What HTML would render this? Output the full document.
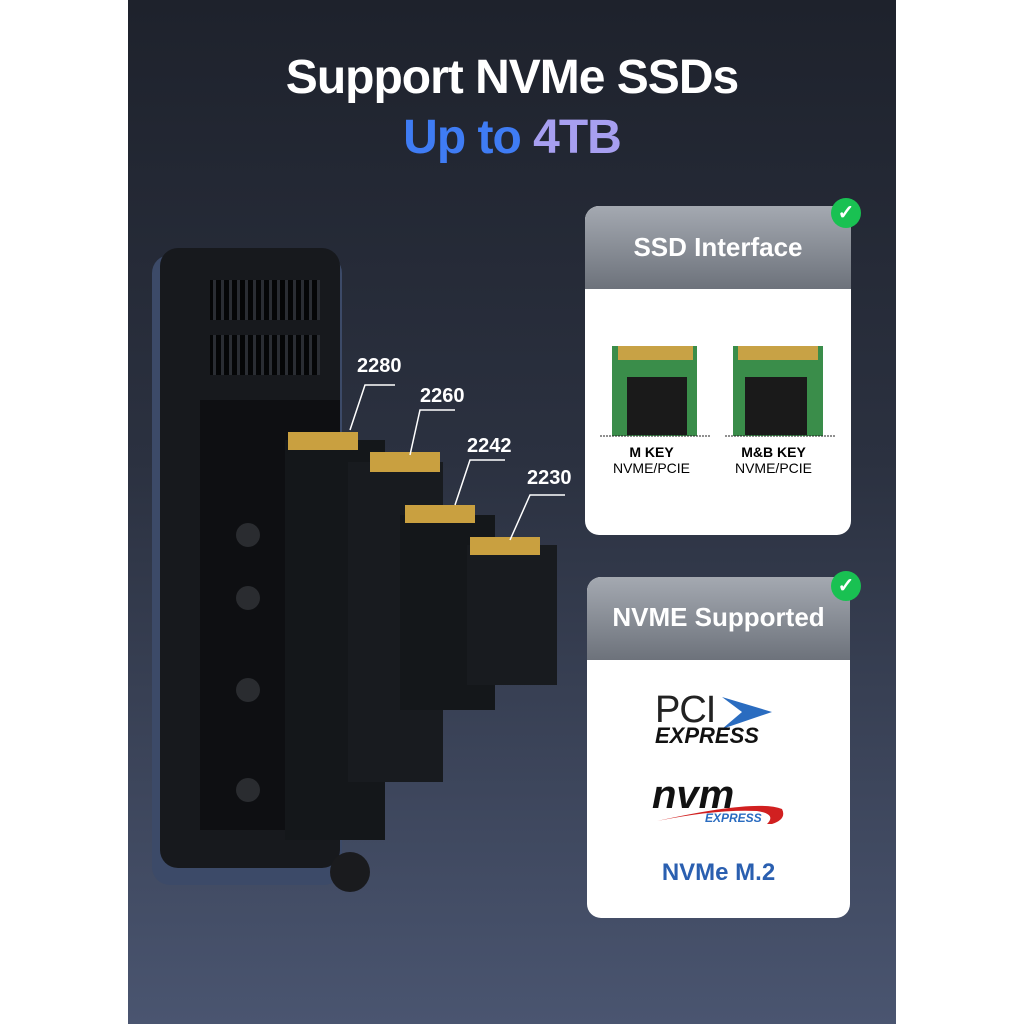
<!DOCTYPE html>
<html><head><style>
body{margin:0;width:1024px;height:1024px;background:#fff;position:relative;overflow:hidden;font-family:"Liberation Sans",sans-serif}
#p{position:absolute;left:128px;top:0;width:768px;height:1024px;background:linear-gradient(#1e222c 0%,#2b3140 45%,#4a5570 100%)}
.t{position:absolute;left:128px;width:768px;text-align:center;font-weight:bold;letter-spacing:-1px}
.card{position:absolute;background:#fff;border-radius:14px;overflow:hidden}
.hd{background:linear-gradient(#a4a9b1,#6d727b);color:#fff;font-weight:bold;font-size:26px;text-align:center}
.ck{position:absolute;width:30px;height:30px;border-radius:50%;background:#19c152;color:#fff;font-size:20px;line-height:30px;text-align:center;font-weight:bold}
.lbl{position:absolute;color:#fff;font-size:20px;font-weight:bold}
</style></head><body>
<div id="p"></div>
<div class="t" style="top:50px;font-size:48px;color:#fff">Support NVMe SSDs</div>
<div class="t" style="top:110px;font-size:48px;color:#6b8cf0"><span style="color:#3f7cf4">Up to </span><span style="color:#a79ff0">4TB</span></div>

<svg style="position:absolute;left:0;top:0" width="1024" height="1024">
<defs><pattern id="sl" width="8" height="40" patternUnits="userSpaceOnUse"><rect width="5" height="40" fill="#050607"/><rect x="5" width="3" height="40" fill="#2a2d33"/></pattern></defs>
<rect x="152" y="255" width="190" height="630" rx="18" fill="#3c4a68"/>
<rect x="160" y="248" width="180" height="620" rx="18" fill="#17191d"/>
<rect x="200" y="400" width="140" height="430" fill="#0e0f12"/>
<rect x="210" y="280" width="110" height="40" fill="url(#sl)"/><rect x="210" y="335" width="110" height="40" fill="url(#sl)"/>
<g fill="#2a2c30"><circle cx="248" cy="535" r="12"/><circle cx="248" cy="598" r="12"/><circle cx="248" cy="690" r="12"/><circle cx="248" cy="790" r="12"/></g>
<circle cx="350" cy="872" r="20" fill="#1a1b1e"/>
<g>
<rect x="285" y="440" width="100" height="400" fill="#14171a"/><rect x="288" y="432" width="70" height="18" fill="#c9a040"/>
<rect x="348" y="462" width="95" height="320" fill="#181b1f"/><rect x="370" y="452" width="70" height="20" fill="#c9a040"/>
<rect x="400" y="515" width="95" height="195" fill="#14171a"/><rect x="405" y="505" width="70" height="18" fill="#c9a040"/>
<rect x="467" y="545" width="90" height="140" fill="#181b1f"/><rect x="470" y="537" width="70" height="18" fill="#c9a040"/>
</g>
<g stroke="#fff" fill="none" stroke-width="1.5">
<path d="M350 430 L365 385 L395 385"/><path d="M410 455 L420 410 L455 410"/><path d="M455 505 L470 460 L505 460"/><path d="M510 540 L530 495 L565 495"/>
</g>
</svg>
<div class="lbl" style="left:357px;top:355px">2280</div>
<div class="lbl" style="left:420px;top:385px">2260</div>
<div class="lbl" style="left:467px;top:435px">2242</div>
<div class="lbl" style="left:527px;top:467px">2230</div>

<div class="card" style="left:585px;top:206px;width:266px;height:329px">
<div class="hd" style="height:83px;line-height:83px">SSD Interface</div>
<svg width="266" height="160" style="display:block;margin-top:50px">
<g><rect x="27" y="7" width="85" height="90" fill="#3a8d4a"/><rect x="33" y="7" width="75" height="14" fill="#c8a245"/><rect x="42" y="38" width="60" height="58" fill="#1a1a1a"/>
<rect x="148" y="7" width="90" height="90" fill="#3a8d4a"/><rect x="153" y="7" width="80" height="14" fill="#c8a245"/><rect x="160" y="38" width="62" height="58" fill="#1a1a1a"/>
<line x1="15" y1="97" x2="125" y2="97" stroke="#222" stroke-dasharray="2 1"/><line x1="140" y1="97" x2="250" y2="97" stroke="#222" stroke-dasharray="2 1"/></g>
</svg>
<div style="position:absolute;left:0;top:238px;width:133px;text-align:center;font-size:14px"><b>M KEY</b><br>NVME/PCIE</div>
<div style="position:absolute;left:122px;top:238px;width:133px;text-align:center;font-size:14px"><b>M&amp;B KEY</b><br>NVME/PCIE</div>
</div>
<div class="ck" style="left:831px;top:198px">✓</div>

<div class="card" style="left:587px;top:577px;width:263px;height:341px">
<div class="hd" style="height:83px;line-height:80px">NVME Supported</div>
<div style="position:absolute;left:68px;top:112px;font-size:38px;color:#222;letter-spacing:-1px">PCI</div>
<svg style="position:absolute;left:135px;top:120px" width="55" height="35"><path d="M0 0 L50 15 L0 32 L20 15Z" fill="#2a6cc0"/></svg>
<div style="position:absolute;left:68px;top:146px;font-size:22px;font-weight:bold;font-style:italic;color:#111">EXPRESS</div>
<div style="position:absolute;left:65px;top:196px;font-size:40px;font-weight:bold;font-style:italic;color:#111">nvm</div>
<div style="position:absolute;left:118px;top:234px;font-size:12px;font-weight:bold;font-style:italic;color:#2a6cc0">EXPRESS</div>
<svg style="position:absolute;left:70px;top:222px" width="130" height="30"><path d="M0 22 Q100 0 125 10 Q130 20 115 25 L110 25 Q120 15 100 12 Q60 10 0 22Z" fill="#d12020"/></svg>
<div style="position:absolute;left:0;top:282px;width:263px;text-align:center;font-size:24px;font-weight:bold;color:#2a5fb0">NVMe M.2</div>
</div>
<div class="ck" style="left:831px;top:571px">✓</div>
</body></html>
